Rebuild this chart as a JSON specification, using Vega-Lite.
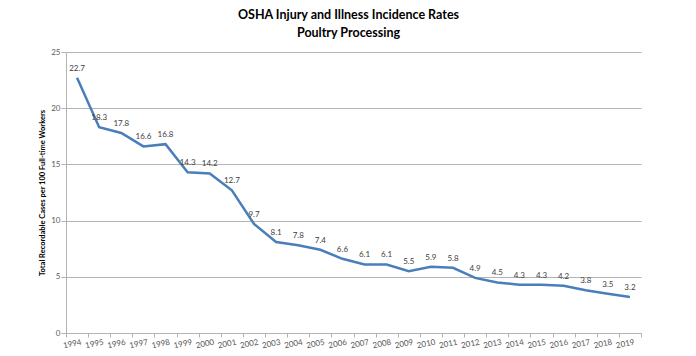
{
  "$schema": "https://vega.github.io/schema/vega-lite/v6.json",
  "width": 575,
  "height": 281,
  "autosize": "none",
  "padding": {"left": 66, "right": 55, "top": 52, "bottom": 23},
  "background": "white",
  "config": {
    "font": "Lato",
    "view": {"stroke": null}
  },
  "title": {
    "text": ["OSHA Injury and Illness Incidence Rates", "Poultry Processing"],
    "fontSize": 12.5,
    "fontWeight": "bold",
    "color": "#000000",
    "anchor": "middle",
    "lineHeight": 18,
    "offset": 9,
    "dx": -5
  },
  "data": {
    "values": [
      {"year": "1994", "rate": 22.7},
      {"year": "1995", "rate": 18.3},
      {"year": "1996", "rate": 17.8},
      {"year": "1997", "rate": 16.6},
      {"year": "1998", "rate": 16.8},
      {"year": "1999", "rate": 14.3},
      {"year": "2000", "rate": 14.2},
      {"year": "2001", "rate": 12.7},
      {"year": "2002", "rate": 9.7},
      {"year": "2003", "rate": 8.1},
      {"year": "2004", "rate": 7.8},
      {"year": "2005", "rate": 7.4},
      {"year": "2006", "rate": 6.6},
      {"year": "2007", "rate": 6.1},
      {"year": "2008", "rate": 6.1},
      {"year": "2009", "rate": 5.5},
      {"year": "2010", "rate": 5.9},
      {"year": "2011", "rate": 5.8},
      {"year": "2012", "rate": 4.9},
      {"year": "2013", "rate": 4.5},
      {"year": "2014", "rate": 4.3},
      {"year": "2015", "rate": 4.3},
      {"year": "2016", "rate": 4.2},
      {"year": "2017", "rate": 3.8},
      {"year": "2018", "rate": 3.5},
      {"year": "2019", "rate": 3.2}
    ]
  },
  "encoding": {
    "x": {
      "field": "year",
      "type": "ordinal",
      "scale": {"type": "band", "paddingInner": 0, "paddingOuter": 0},
      "axis": {
        "title": null,
        "tickBand": "extent",
        "labelAngle": -12,
        "labelAlign": "center",
        "labelBaseline": "top",
        "labelOffset": -6,
        "labelFontSize": 8,
        "labelColor": "#595959",
        "labelPadding": 3,
        "domainColor": "#b3b3b3",
        "tickColor": "#b3b3b3",
        "tickSize": 4,
        "grid": false
      }
    },
    "y": {
      "field": "rate",
      "type": "quantitative",
      "scale": {"domain": [0, 25]},
      "axis": {
        "title": "Total Recordable Cases per 100 Full-time Workers",
        "values": [0, 5, 10, 15, 20, 25],
        "titleFontSize": 7.5,
        "titleFontWeight": "bold",
        "titleColor": "#000000",
        "titlePadding": 4,
        "labelFontSize": 8,
        "labelColor": "#595959",
        "labelPadding": 1,
        "tickSize": 5,
        "tickColor": "#b3b3b3",
        "domainColor": "#b3b3b3",
        "gridColor": "#b3b3b3",
        "grid": true
      }
    }
  },
  "layer": [
    {
      "mark": {"type": "line", "color": "#4a7ebb", "strokeWidth": 2.5}
    },
    {
      "mark": {"type": "text", "dy": -9, "fontSize": 8, "color": "#404040", "align": "center"},
      "encoding": {"text": {"field": "rate", "type": "quantitative", "format": ".1f"}}
    }
  ]
}
